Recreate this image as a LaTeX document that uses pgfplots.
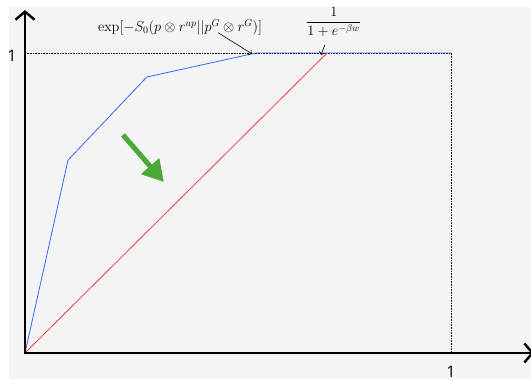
\documentclass[border=0pt]{standalone}
\usepackage{amsmath}
\usepackage[no-math]{fontspec}
\setmainfont{Open Sans}
\usepackage{pgfplots}
\pgfplotsset{compat=1.18}
\usetikzlibrary{arrows.meta}
\definecolor{bg}{RGB}{244,244,244}
\definecolor{curveblue}{RGB}{55,100,255}
\definecolor{curvered}{RGB}{240,60,60}
\definecolor{arrowgreen}{RGB}{76,168,56}
\begin{document}
\begin{tikzpicture}
\begin{axis}[
  scale only axis, width=531bp, height=379bp,
  xmin=-0.0587, xmax=1.188, ymin=-0.0867, ymax=1.1767,
  hide axis, clip=false,
]
% canvas
\path (axis cs:-0.0587,-0.0867) rectangle (axis cs:1.188,1.1767);
\fill[bg] (axis cs:-0.0376,-0.0867) rectangle (axis cs:1.188,1.153);
% guide lines at 1
\draw[densely dotted, line width=0.6pt] (axis cs:0,1) -- (axis cs:1,1) -- (axis cs:1,0);
% curves
\addplot[curveblue, line width=0.8pt] coordinates {(0,0) (0.101,0.643) (0.286,0.92) (0.542,1) (1,1)};
\addplot[curvered, line width=0.8pt] coordinates {(0,0) (0.709,1)};
% axes
\begin{scope}
\clip (axis cs:-0.0587,-0.0867) rectangle (axis cs:1.188,1.1767);
\draw[line width=2.4bp, -{Straight Barb[length=8bp,width=19bp,line width=2.4bp]}] (axis cs:0,-0.004) -- (axis cs:0,1.143);
\draw[line width=2.4bp, -{Straight Barb[length=8bp,width=19bp,line width=2.4bp]}] (axis cs:-0.003,0) -- (axis cs:1.195,0);
\end{scope}
\node[font=\fontsize{16}{18}\selectfont] at (axis cs:-0.0305,0.99) {1};
\node[font=\fontsize{16}{18}\selectfont] at (axis cs:1,-0.063) {1};
% annotations
\node[font=\fontsize{14.5}{17}\selectfont] at (axis cs:0.364,1.086) {$\exp[-S_0(p\otimes r^{up}||p^G\otimes r^G)]$};
\node[font=\fontsize{14.5}{17}\selectfont] at (axis cs:0.725,1.103) {$\dfrac{1}{1+e^{-\beta w}}$};
\draw[-{To[length=3pt]}, line width=0.6pt] (axis cs:0.453,1.068) -- (axis cs:0.533,0.997);
\draw[-{To[length=3pt]}, line width=0.6pt] (axis cs:0.704,1.027) -- (axis cs:0.695,0.993);
% green trend arrow
\draw[arrowgreen, line width=5bp, -{Triangle[length=21bp,width=23bp]}] (axis cs:0.23,0.727) -- (axis cs:0.326,0.57);
\end{axis}
\end{tikzpicture}
\end{document}
